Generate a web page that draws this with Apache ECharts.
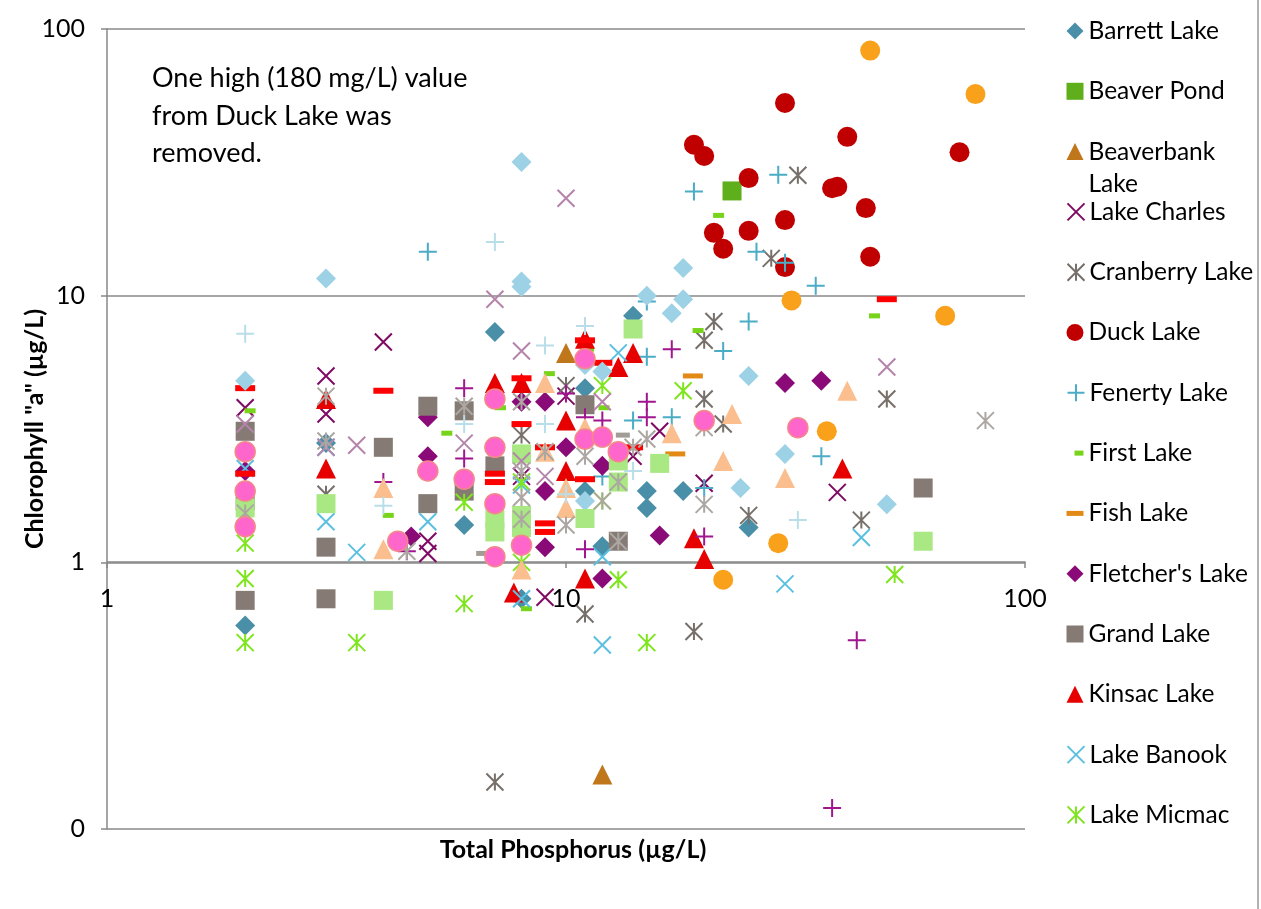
<!DOCTYPE html>
<html><head><meta charset="utf-8">
<script src="https://cdn.jsdelivr.net/npm/echarts@6/dist/echarts.min.js"></script>
<style>html,body{margin:0;padding:0;background:#fff}#c{width:1261px;height:909px}</style>
</head><body><div id="c"></div>
<script>
// ---- data: [Total Phosphorus (µg/L), Chlorophyll "a" (µg/L)] ----
const barrettLake = [[2,0.58],[3,2.8],[6,1.38],[7,7.3],[8,0.73],[11,4.5],[11,1.85],[12,1.15],[14,8.4],[15,1.85],[15,1.6],[18,1.85],[25,1.35]];
const beaverPond = [[23,24.7]];
const beaverbankLake = [[10,6.1],[12,0.16]];
const lakeCharles = [[2,3.8],[3,5.0],[3,3.6],[4,6.7],[5,1.2],[5,1.08],[8,2.1],[9,0.74],[10,4.2],[14,2.5],[16,3.1],[20,1.98],[39,1.83]];
const cranberryLake = [[3,1.8],[7,0.15],[8,3.0],[10,4.6],[11,0.64],[19,0.55],[20,6.8],[20,4.1],[21,8.0],[22,3.3],[25,1.5],[28,13.8],[32,28.3],[44,1.44],[50,4.1]];
const duckLake = [[19,36.8],[20,33.4],[21,17.2],[22,15.0],[25,27.6],[25,17.5],[30,52.8],[30,19.2],[30,12.8],[38,25.3],[39,25.6],[41,39.4],[45,21.3],[46,14.0],[72,34.5]];
const fenertyLake = [[5,14.6],[12,2.1],[14,3.4],[15,5.9],[15,9.5],[17,3.5],[19,24.6],[20,1.9],[22,6.2],[25,8.0],[26,14.6],[29,28.4],[30,13.3],[35,10.9],[36,2.5]];
const firstLake = [[2.05,3.7],[4.1,1.5],[5.5,3.05],[7.2,3.8],[8.2,0.67],[9.2,5.1],[11.2,6.3],[12.1,3.8],[19.4,7.4],[21.5,20],[47,8.4]];
const fishLake = [[17.3,2.55],[18.9,5.0]];
const fletchersLake = [[2,2.2],[4.6,1.25],[5,3.5],[5,2.5],[8,4.0],[9,4.0],[9,1.85],[9,1.14],[10,2.7],[12,2.3],[12,0.87],[16,1.26],[30,4.7],[36,4.8]];
const grandLake = [[2,0.72],[2,3.1],[2,1.7],[3,0.73],[3,1.14],[4,2.7],[5,3.85],[5,1.66],[6,3.7],[6,1.85],[7,2.3],[11,3.9],[13,1.2],[60,1.9]];
const kinsacLake = [[3,4.1],[3,2.25],[7,4.7],[7.7,0.77],[8,4.7],[10,3.4],[10,2.2],[11,6.9],[11,0.87],[13,5.4],[14,6.1],[19,1.23],[20,1.03],[40,2.25]];
const lakeBanook = [[2,2.25],[3,2.7],[3,1.42],[3.5,1.09],[5,1.42],[8,1.95],[8,0.73],[12,1.05],[12,0.49],[13,6.1],[30,0.83],[44,1.24]];
const lakeMicmac = [[2,1.18],[2,0.87],[2,0.5],[3.5,0.5],[6,1.68],[6,0.7],[8,2.0],[8,1.0],[12,4.6],[12,1.7],[13,0.86],[15,0.5],[18,4.4],[52,0.9]];
// series whose legend entries are cut off in the original
const series15 = [[4,2.0],[4.5,1.1],[6,4.5],[6,2.45],[10,4.3],[11,3.5],[11,1.12],[12,3.4],[15,4.0],[15,3.5],[17,6.3],[20,1.25],[38,0.12],[43,0.51]];
const series16 = [[2,4.5],[2,2.15],[4,4.4],[7,2.15],[7,2.0],[8,4.9],[8,3.3],[9,2.7],[9,1.4],[9,1.3],[11,6.8],[11,2.05],[12,5.6],[14,2.7],[50,9.7]];
const series17 = [[2,4.8],[3,11.6],[8,31.7],[8,11.3],[8,10.8],[11,5.5],[11,1.7],[12,5.2],[15,10],[17,8.6],[18,12.7],[18,9.7],[24,1.9],[25,5.0],[30,2.55],[50,1.65]];
const series18 = [[2,1.6],[3,1.66],[4,0.72],[7,1.45],[7,1.3],[8,2.55],[8,1.5],[8,1.35],[11,1.46],[13,2.4],[13,2.0],[14,7.5],[16,2.35],[60,1.2]];
const series19 = [[4,1.9],[4,1.12],[8,0.94],[9,4.7],[9,2.6],[10,1.9],[10,1.6],[11,3.2],[17,3.05],[22,2.4],[23,3.6],[30,2.07],[41,4.4]];
const series20 = [[2,3.3],[3,2.7],[3.5,2.75],[6,2.8],[7,9.7],[8,6.2],[8,2.4],[9,2.1],[10,23.2],[12,4.0],[50,5.4]];
const series21 = [[2,1.53],[3,4.2],[3,2.85],[4.5,1.1],[6,3.85],[8,4.0],[8,2.2],[8,1.75],[8,1.45],[9,2.6],[10,1.38],[11,2.5],[12,1.7],[13,2.0],[13,1.2],[14,2.7],[15,2.9],[20,3.2],[20,1.65],[82,3.4]];
const series22 = [[2,7.2],[4,1.63],[6,3.3],[7,15.9],[9,6.5],[9,3.3],[10,1.8],[11,7.7],[12,2.9],[14,2.2],[32,1.44]];
const series23 = [[6.6,1.08],[13.3,3.0]];
const series24 = [[22,0.86],[29,1.18],[31,9.6],[37,3.1],[46,83],[67,8.4],[78,57]];
const series25 = [[2,2.6],[2,1.85],[2,1.36],[4.3,1.2],[5,2.2],[6,2.05],[7,4.1],[7,2.7],[7,1.66],[7,1.05],[8,1.16],[11,5.8],[11,2.9],[12,2.95],[13,2.6],[20,3.4],[32,3.2]];

const legendNames = ['Barrett Lake','Beaver Pond','Beaverbank Lake','Lake Charles','Cranberry Lake','Duck Lake','Fenerty Lake','First Lake','Fish Lake',"Fletcher's Lake",'Grand Lake','Kinsac Lake','Lake Banook','Lake Micmac'];
const xAxisTitle = 'Total Phosphorus (µg/L)';
const yAxisTitle = 'Chlorophyll "a" (µg/L)';
const noteText = 'One high (180 mg/L) value\nfrom Duck Lake was\nremoved.';

// ---- marker styles ----
const X = 'path://M0,0L10,10M10,0L0,10';
const PLUS = 'path://M5,0L5,10M0,5L10,5';
const STAR = 'path://M0,0L10,10M10,0L0,10M5,0L5,10';
const FONT = 'Lato';

const defs = [
  {name:'Barrett Lake', data:barrettLake, symbol:'diamond', size:20, color:'#4A8FA8'},
  {name:'Beaver Pond', data:beaverPond, symbol:'rect', size:19, color:'#5FAE1C'},
  {name:'Beaverbank Lake', data:beaverbankLake, symbol:'triangle', size:20, color:'#C0761A'},
  {name:'Lake Charles', data:lakeCharles, symbol:X, size:17, color:'#7E0A62', stroke:true},
  {name:'Cranberry Lake', data:cranberryLake, symbol:STAR, size:17, color:'#77706A', stroke:true},
  {name:'Duck Lake', data:duckLake, symbol:'circle', size:20, color:'#C00000'},
  {name:'Fenerty Lake', data:fenertyLake, symbol:PLUS, size:18, color:'#4BACC6', stroke:true},
  {name:'First Lake', data:firstLake, symbol:'rect', size:[11,5], color:'#77D41A', dash:true},
  {name:'Fish Lake', data:fishLake, symbol:'rect', size:[20,5], color:'#E38A16', dash:true},
  {name:"Fletcher's Lake", data:fletchersLake, symbol:'diamond', size:20, color:'#8A0A78'},
  {name:'Grand Lake', data:grandLake, symbol:'rect', size:19, color:'#867B74'},
  {name:'Kinsac Lake', data:kinsacLake, symbol:'triangle', size:20, color:'#E60000'},
  {name:'Lake Banook', data:lakeBanook, symbol:X, size:17, color:'#5BC0E0', stroke:true},
  {name:'Lake Micmac', data:lakeMicmac, symbol:STAR, size:17, color:'#7FE51E', stroke:true},
  {name:'Series 15', data:series15, symbol:PLUS, size:18, color:'#A0168E', stroke:true},
  {name:'Series 16', data:series16, symbol:'rect', size:[20,6], color:'#FF0000'},
  {name:'Series 17', data:series17, symbol:'diamond', size:20, color:'#9CD1E6'},
  {name:'Series 18', data:series18, symbol:'rect', size:19, color:'#A9E882'},
  {name:'Series 19', data:series19, symbol:'triangle', size:20, color:'#FBBE8E'},
  {name:'Series 20', data:series20, symbol:X, size:17, color:'#B484AA', stroke:true},
  {name:'Series 21', data:series21, symbol:STAR, size:17, color:'#ACA7A2', stroke:true},
  {name:'Series 22', data:series22, symbol:PLUS, size:18, color:'#B9DEEA', stroke:true},
  {name:'Series 23', data:series23, symbol:'rect', size:[14,5], color:'#A29C96'},
  {name:'Series 24', data:series24, symbol:'circle', size:20, color:'#F9A11B'},
  {name:'Series 25', data:series25, symbol:'circle', size:20, color:'#FF66CC', border:'#F4878A'}
];

const series = defs.map(d => ({
  name: d.name, type:'scatter', xAxisIndex:0, yAxisIndex:0,
  data: d.data, symbol: d.symbol, symbolSize: d.size,
  itemStyle: d.stroke ? {color:d.color, borderColor:d.color, borderWidth:2, opacity:1}
            : d.border ? {color:d.color, borderColor:d.border, borderWidth:1.5, opacity:1}
            : {color:d.color, opacity:1},
  emphasis:{disabled:true}
}));

const LEG_FS = 24.5, LEG_LH = 28;
const rowY0 = 31, rowStep = 60.3;
const legends = legendNames.map((n, i) => {
  const d = defs.find(s => s.name === n);
  const cy = rowY0 + i * rowStep;
  const lg = {
    data:[n], orient:'vertical', left:1066.5, top: cy - LEG_LH / 2, padding:0, itemGap:0,
    itemWidth:17, itemHeight:17, selectedMode:false,
    itemStyle:{opacity:1},
    textStyle:{fontFamily:FONT, fontSize:LEG_FS, color:'#000', lineHeight:LEG_LH}
  };
  if (d.dash) {
    lg.itemWidth = d.size[0] === 11 ? 9 : 17;
    lg.itemHeight = 5;
    lg.left = 1088.5 - 5 - lg.itemWidth;
  }
  if (n === 'Beaverbank Lake') {
    lg.formatter = () => '\nBeaverbank\nLake';
    lg.textStyle = {fontFamily:FONT, fontSize:LEG_FS, color:'#000', lineHeight:32};
    lg.top = cy - 48;
  }
  return lg;
});

const chart = echarts.init(document.getElementById('c'), null, {renderer:'canvas'});
chart.setOption({
  animation:false,
  backgroundColor:'#fff',
  textStyle:{fontFamily:FONT},
  grid:{left:107, top:29, right:236, bottom:80, containLabel:false, outerBoundsMode:'none'},
  legend: legends,
  xAxis:[
    {type:'log', logBase:10, min:1, max:100, position:'bottom', offset:-267,
     axisLine:{show:true, lineStyle:{color:'#888', width:1.5}},
     axisTick:{show:true, length:6, lineStyle:{color:'#888', width:1.5}},
     axisLabel:{fontFamily:FONT, fontSize:25, color:'#000', margin:24},
     splitLine:{show:false}},
    {type:'log', logBase:10, min:1, max:100, position:'bottom',
     axisLine:{show:false}, axisTick:{show:false}, axisLabel:{show:false}, splitLine:{show:false},
     name:xAxisTitle, nameLocation:'middle', nameGap:8, nameMoveOverlap:false,
     nameTextStyle:{fontFamily:FONT, fontSize:25, fontWeight:'bold', color:'#000', padding:[0,0,0,14]}}
  ],
  yAxis:{type:'log', logBase:10, min:0.1, max:100,
     axisLine:{show:true, lineStyle:{color:'#888', width:1.5}},
     axisTick:{show:true, length:6, lineStyle:{color:'#888', width:1.5}},
     axisLabel:{fontFamily:FONT, fontSize:25, color:'#000', margin:22,
       formatter: v => v < 1 ? '0' : String(Math.round(v))},
     splitLine:{show:true, lineStyle:{color:'#888', width:1.5}},
     name:yAxisTitle, nameLocation:'middle', nameGap:60, nameRotate:90, nameMoveOverlap:false,
     nameTextStyle:{fontFamily:FONT, fontSize:25, fontWeight:'bold', color:'#000'}},
  graphic:[
    {type:'text', left:152, top:60, style:{text:noteText, font:'27px Lato', fill:'#000', lineHeight:37.5}},
    {type:'line', shape:{x1:1258, y1:0, x2:1258, y2:909}, style:{stroke:'#999', lineWidth:1.5}}
  ],
  series
});
</script></body></html>
